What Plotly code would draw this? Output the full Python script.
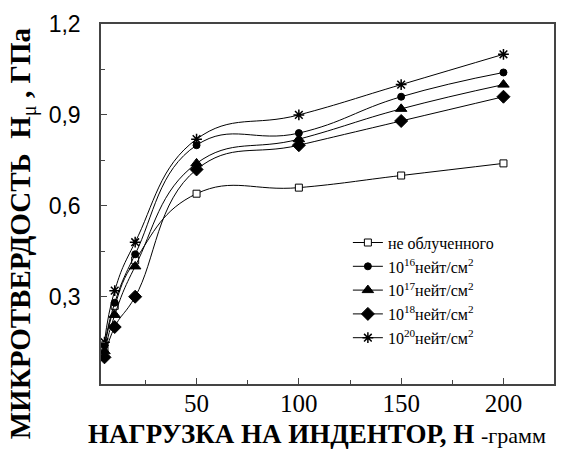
import plotly.graph_objects as go

load = [5, 10, 20, 50, 100, 150, 200]
h_unirr = [0.13, 0.27, 0.42, 0.64, 0.66, 0.70, 0.74]
h_1e16 = [0.14, 0.28, 0.44, 0.80, 0.84, 0.96, 1.04]
h_1e17 = [0.12, 0.24, 0.40, 0.74, 0.82, 0.92, 1.00]
h_1e18 = [0.10, 0.20, 0.30, 0.72, 0.80, 0.88, 0.96]
h_1e20 = [0.15, 0.32, 0.48, 0.82, 0.90, 1.00, 1.10]

names = ["не облученного",
         "10<sup>16</sup>нейт/см<sup>2</sup>",
         "10<sup>17</sup>нейт/см<sup>2</sup>",
         "10<sup>18</sup>нейт/см<sup>2</sup>",
         "10<sup>20</sup>нейт/см<sup>2</sup>"]
series = [h_unirr, h_1e16, h_1e17, h_1e18, h_1e20]
symbols = ["square-open", "circle", "triangle-up", "diamond", "asterisk-open"]
sizes = [7, 7, 10, 10, 9]

y_ticks = [0.3, 0.6, 0.9, 1.2]
y_ticklabels = ["0,3", "0,6", "0,9", "1,2"]
x_ticks = [50, 100, 150, 200]
x_ticklabels = ["50", "100", "150", "200"]

fig = go.Figure()
for i, (nm, ys) in enumerate(zip(names, series)):
    mk = dict(symbol=symbols[i], size=sizes[i], color="black",
              line=dict(color="black", width=1.5 if "asterisk" in symbols[i] else 1))
    if symbols[i] == "square-open":
        mk = dict(symbol="square", size=sizes[i], color="white",
                  line=dict(color="black", width=1))
    fig.add_trace(go.Scatter(
        x=load, y=ys, name=nm, mode="lines+markers",
        line=dict(color="black", width=1, shape="spline", smoothing=1.3),
        marker=mk, legendgroup=str(i)))

fig.update_layout(
    width=561, height=459,
    margin=dict(l=101, r=5, t=24, b=75),
    plot_bgcolor="white", paper_bgcolor="white",
    showlegend=True,
    legend=dict(x=0.545, y=0.44, xanchor="left", yanchor="top",
                bgcolor="rgba(0,0,0,0)", borderwidth=0,
                font=dict(family="Liberation Serif", size=16, color="black"),
                tracegroupgap=0, traceorder="grouped"),
    xaxis=dict(range=[3.3, 224.7], showgrid=False, zeroline=False,
               showline=True, linecolor="#444", linewidth=1.5, mirror=True,
               ticks="inside", ticklen=6, tickcolor="#444",
               tickvals=x_ticks, ticktext=x_ticklabels,
               ticklabelstandoff=-4,
               tickfont=dict(family="Liberation Serif", size=25, color="black"),
               minor=dict(tickvals=[25, 75, 125, 175], ticks="inside", ticklen=4, tickcolor="#444")),
    yaxis=dict(range=[0.012, 1.2], showgrid=False, zeroline=False,
               showline=True, linecolor="#444", linewidth=1.5, mirror=True,
               ticks="inside", ticklen=6, tickcolor="#444",
               tickvals=y_ticks, ticktext=y_ticklabels,
               ticklabelstandoff=14,
               tickfont=dict(family="Liberation Sans", size=23, color="black"),
               minor=dict(tickvals=[0.15, 0.45, 0.75, 1.05], ticks="inside", ticklen=4, tickcolor="#444")),
    annotations=[
        dict(text="<b>НАГРУЗКА НА ИНДЕНТОР, Н</b> <span style='font-size:22px'>-грамм</span>",
             xref="paper", yref="paper", x=(318 - 101) / 454.7, y=-(434 - 384) / 360,
             xanchor="center", yanchor="middle", showarrow=False,
             font=dict(family="Liberation Serif", size=27, color="black")),
        dict(text="<b>МИКРОТВЕРДОСТЬ</b>  <b>Н</b><sub>μ</sub> <b>, ГПа</b>",
             xref="paper", yref="paper", x=-(101 - 23) / 454.7, y=(384 - 233) / 360,
             xanchor="center", yanchor="middle", showarrow=False, textangle=-90,
             font=dict(family="Liberation Serif", size=29, color="black")),
    ],
)

fig.write_html("out.html")
